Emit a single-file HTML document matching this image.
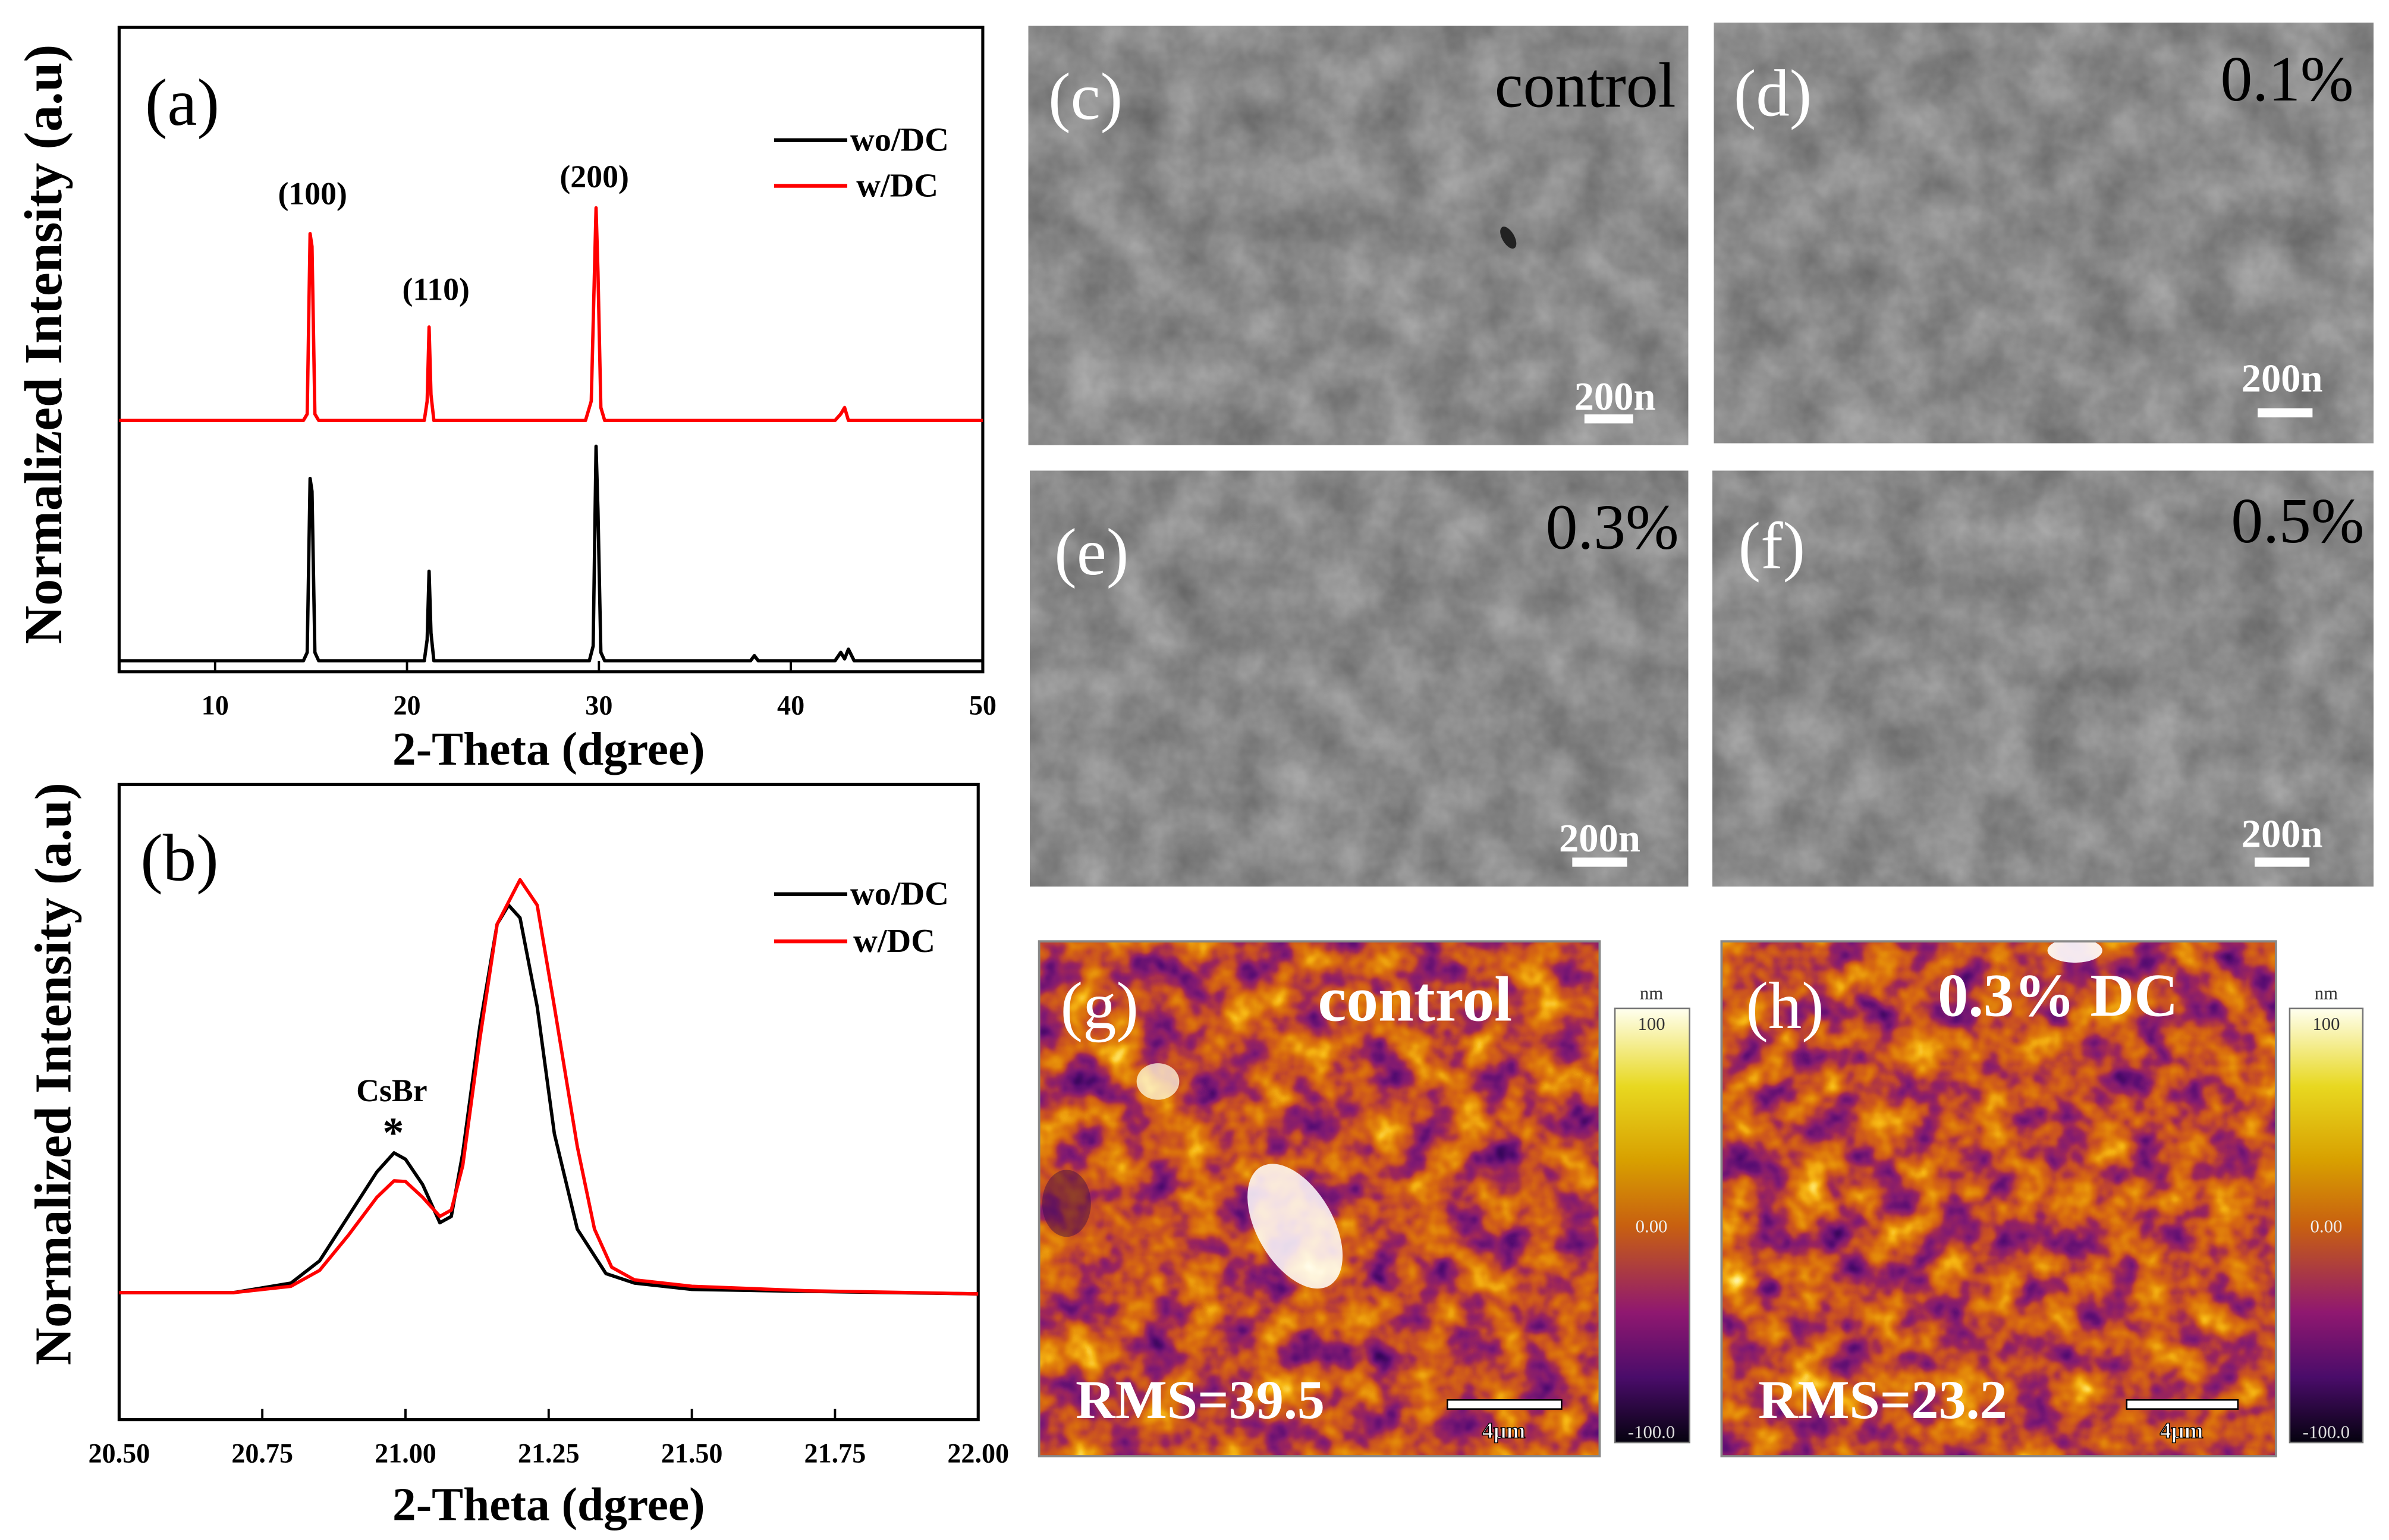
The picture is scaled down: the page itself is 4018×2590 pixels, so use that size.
<!DOCTYPE html>
<html><head><meta charset="utf-8"><style>
html,body{margin:0;padding:0;background:#fff;}
svg{display:block;}
text{font-family:"Liberation Serif",serif;}
</style></head><body>
<svg id="fig" width="4018" height="2590" viewBox="0 0 1568 1011" xmlns="http://www.w3.org/2000/svg">
<defs>
<filter id="sem" x="0" y="0" width="100%" height="100%" color-interpolation-filters="sRGB">
  <feTurbulence type="fractalNoise" baseFrequency="0.03" numOctaves="4" seed="3"/>
  <feColorMatrix type="matrix" values="0.3 0 0 0 0.39  0.3 0 0 0 0.39  0.3 0 0 0 0.39  0 0 0 0 1"/>
</filter>
<filter id="afm" x="0" y="0" width="100%" height="100%" color-interpolation-filters="sRGB">
  <feTurbulence type="fractalNoise" baseFrequency="0.04" numOctaves="3" seed="7"/>
  <feColorMatrix type="matrix" values="1 0 0 0 0  1 0 0 0 0  1 0 0 0 0  0 0 0 0 1"/>
  <feComponentTransfer>
    <feFuncR type="table" tableValues="0.1 0.2 0.35 0.5 0.62 0.78 0.85 0.9 0.97 1 1"/>
    <feFuncG type="table" tableValues="0 0.02 0.05 0.1 0.15 0.3 0.42 0.55 0.72 0.9 1"/>
    <feFuncB type="table" tableValues="0.25 0.35 0.45 0.45 0.35 0.15 0.06 0.04 0.08 0.4 0.9"/>
  </feComponentTransfer>
</filter>
<linearGradient id="cbar" x1="0" y1="0" x2="0" y2="1">
  <stop offset="0" stop-color="#fffff0"/><stop offset="0.18" stop-color="#e8d820"/>
  <stop offset="0.35" stop-color="#d8a000"/><stop offset="0.5" stop-color="#c86010"/>
  <stop offset="0.7" stop-color="#901870"/><stop offset="0.85" stop-color="#4a0c6a"/>
  <stop offset="1" stop-color="#05020f"/>
</linearGradient>
</defs>

<!-- Panel a -->
<g>
<rect x="78" y="18" width="567" height="423" fill="none" stroke="#000" stroke-width="2"/>
<g id="a-xticks"></g>
<g id="a-series"></g>
<text x="95" y="82" font-size="44">(a)</text>
<text x="205" y="134" font-size="21" font-weight="bold" text-anchor="middle">(100)</text>
<text x="286" y="197" font-size="21" font-weight="bold" text-anchor="middle">(110)</text>
<text x="390" y="123" font-size="21" font-weight="bold" text-anchor="middle">(200)</text>
<g>
<line x1="508" y1="92" x2="556" y2="92" stroke="#000" stroke-width="2.5"/>
<text x="558" y="99" font-size="22" font-weight="bold">wo/DC</text>
<line x1="508" y1="122" x2="556" y2="122" stroke="#f00" stroke-width="2.5"/>
<text x="562" y="129" font-size="22" font-weight="bold">w/DC</text>
</g>
<text transform="translate(40,226) rotate(-90)" font-size="35" font-weight="bold" text-anchor="middle">Normalized Intensity (a.u)</text>
<text x="360" y="502" font-size="31" font-weight="bold" text-anchor="middle">2-Theta (dgree)</text>
</g>

<!-- Panel b -->
<g>
<rect x="78" y="515" width="564" height="417" fill="none" stroke="#000" stroke-width="2"/>
<g id="b-xticks"></g>
<g id="b-series"></g>
<text x="92" y="578" font-size="44">(b)</text>
<text x="257" y="723" font-size="21" font-weight="bold" text-anchor="middle">CsBr</text>
<text x="258" y="753" font-size="28" font-weight="bold" text-anchor="middle">*</text>
<g>
<line x1="508" y1="587" x2="556" y2="587" stroke="#000" stroke-width="2.5"/>
<text x="558" y="594" font-size="22" font-weight="bold">wo/DC</text>
<line x1="508" y1="618" x2="556" y2="618" stroke="#f00" stroke-width="2.5"/>
<text x="560" y="625" font-size="22" font-weight="bold">w/DC</text>
</g>
<text transform="translate(46,705) rotate(-90)" font-size="34" font-weight="bold" text-anchor="middle">Normalized Intensity (a.u)</text>
<text x="360" y="998" font-size="31" font-weight="bold" text-anchor="middle">2-Theta (dgree)</text>
</g>

<!-- SEM images -->
<g>
<rect x="675" y="17" width="433" height="275" fill="#888" filter="url(#sem)"/>
<ellipse cx="990" cy="156" rx="4" ry="8" fill="#222" transform="rotate(-30 990 156)"/>
<text x="688" y="78" font-size="44" fill="#fff">(c)</text>
<text x="1100" y="70" font-size="42" text-anchor="end">control</text>
<text x="1060" y="269" font-size="26" font-weight="bold" fill="#fff" text-anchor="middle">200n</text>
<rect x="1040" y="272" width="32" height="6" fill="#fff"/>
</g>
<g>
<rect x="1125" y="15" width="433" height="276" fill="#888" filter="url(#sem)"/>
<text x="1138" y="76" font-size="44" fill="#fff">(d)</text>
<text x="1545" y="66" font-size="42" text-anchor="end">0.1%</text>
<text x="1498" y="257" font-size="26" font-weight="bold" fill="#fff" text-anchor="middle">200n</text>
<rect x="1482" y="268" width="36" height="6" fill="#fff"/>
</g>
<g>
<rect x="676" y="309" width="432" height="273" fill="#888" filter="url(#sem)"/>
<text x="692" y="377" font-size="44" fill="#fff">(e)</text>
<text x="1102" y="360" font-size="42" text-anchor="end">0.3%</text>
<text x="1050" y="559" font-size="26" font-weight="bold" fill="#fff" text-anchor="middle">200n</text>
<rect x="1032" y="563" width="36" height="6" fill="#fff"/>
</g>
<g>
<rect x="1124" y="309" width="434" height="273" fill="#888" filter="url(#sem)"/>
<text x="1141" y="373" font-size="44" fill="#fff">(f)</text>
<text x="1552" y="356" font-size="42" text-anchor="end">0.5%</text>
<text x="1498" y="556" font-size="26" font-weight="bold" fill="#fff" text-anchor="middle">200n</text>
<rect x="1480" y="563" width="36" height="6" fill="#fff"/>
</g>

<!-- AFM images -->
<g>
<rect x="682" y="618" width="368" height="338" fill="#c86a10" filter="url(#afm)"/>
<ellipse cx="850" cy="805" rx="25" ry="45" fill="#fff" opacity="0.85" transform="rotate(-30 850 805)"/>
<ellipse cx="760" cy="710" rx="14" ry="12" fill="#fffbe0" opacity="0.75"/>
<ellipse cx="700" cy="790" rx="16" ry="22" fill="#3a0a4a" opacity="0.45"/>
<rect x="682" y="618" width="368" height="338" fill="none" stroke="#888" stroke-width="1.5"/>
<text x="696" y="675" font-size="44" fill="#fff">(g)</text>
<text x="865" y="670" font-size="42" font-weight="bold" fill="#fff">control</text>
<text x="706" y="931" font-size="36" font-weight="bold" fill="#fff">RMS=39.5</text>
<rect x="950" y="919" width="75" height="6" fill="#fff" stroke="#000" stroke-width="1"/>
<text x="987" y="944" font-size="15" font-weight="bold" fill="#fff" stroke="#000" stroke-width="0.6" text-anchor="middle" font-family="Liberation Sans">4μm</text>
</g>
<g>
<rect x="1060" y="662" width="49" height="285" fill="url(#cbar)" stroke="#777" stroke-width="1"/>
<text x="1084" y="656" font-size="12" text-anchor="middle" font-family="Liberation Sans" fill="#333">nm</text>
<text x="1084" y="676" font-size="12" text-anchor="middle" font-family="Liberation Sans" fill="#333">100</text>
<text x="1084" y="809" font-size="12" text-anchor="middle" font-family="Liberation Sans" fill="#eee">0.00</text>
<text x="1084" y="944" font-size="12" text-anchor="middle" font-family="Liberation Sans" fill="#ddd">-100.0</text>
</g>
<g>
<rect x="1130" y="618" width="364" height="338" fill="#c86a10" filter="url(#afm)"/>
<ellipse cx="1362" cy="624" rx="18" ry="8" fill="#fff" opacity="0.9"/>
<rect x="1130" y="618" width="364" height="338" fill="none" stroke="#888" stroke-width="1.5"/>
<text x="1146" y="675" font-size="44" fill="#fff">(h)</text>
<text x="1272" y="667" font-size="40" font-weight="bold" fill="#fff">0.3% DC</text>
<text x="1154" y="931" font-size="36" font-weight="bold" fill="#fff">RMS=23.2</text>
<rect x="1396" y="919" width="73" height="6" fill="#fff" stroke="#000" stroke-width="1"/>
<text x="1432" y="944" font-size="15" font-weight="bold" fill="#fff" stroke="#000" stroke-width="0.6" text-anchor="middle" font-family="Liberation Sans">4μm</text>
</g>
<g>
<rect x="1503" y="662" width="48" height="285" fill="url(#cbar)" stroke="#777" stroke-width="1"/>
<text x="1527" y="656" font-size="12" text-anchor="middle" font-family="Liberation Sans" fill="#333">nm</text>
<text x="1527" y="676" font-size="12" text-anchor="middle" font-family="Liberation Sans" fill="#333">100</text>
<text x="1527" y="809" font-size="12" text-anchor="middle" font-family="Liberation Sans" fill="#eee">0.00</text>
<text x="1527" y="944" font-size="12" text-anchor="middle" font-family="Liberation Sans" fill="#ddd">-100.0</text>
</g>
</svg>
<script>
// Panel (a) data
const aTicks = [10, 20, 30, 40, 50];
const aBlackX = [5, 14.6, 14.8, 14.95, 15.05, 15.2, 15.4, 20.9, 21.05, 21.15, 21.25, 21.4, 29.5, 29.7, 29.85, 29.95, 30.1, 30.3, 37.9, 38.1, 38.3, 42.3, 42.6, 42.8, 43.0, 43.3, 50];
const aBlackY = [0.017, 0.017, 0.03, 0.30, 0.28, 0.03, 0.017, 0.017, 0.05, 0.156, 0.06, 0.017, 0.017, 0.04, 0.35, 0.25, 0.03, 0.017, 0.017, 0.025, 0.017, 0.017, 0.03, 0.02, 0.035, 0.017, 0.017];
const aRedX = [5, 14.6, 14.8, 14.95, 15.05, 15.2, 15.4, 20.9, 21.05, 21.15, 21.25, 21.4, 29.3, 29.6, 29.85, 29.95, 30.1, 30.3, 42.3, 42.6, 42.8, 43.0, 50];
const aRedY = [0.39, 0.39, 0.40, 0.68, 0.66, 0.40, 0.39, 0.39, 0.42, 0.535, 0.43, 0.39, 0.39, 0.42, 0.72, 0.62, 0.41, 0.39, 0.39, 0.40, 0.41, 0.39, 0.39];
// Panel (b) data
const bTicks = [20.5, 20.75, 21.0, 21.25, 21.5, 21.75, 22.0];
const bBlackX = [20.5, 20.7, 20.8, 20.85, 20.9, 20.95, 20.98, 21.0, 21.03, 21.06, 21.08, 21.1, 21.13, 21.16, 21.18, 21.2, 21.23, 21.26, 21.3, 21.35, 21.4, 21.5, 21.7, 22.0];
const bBlackY = [0.2, 0.2, 0.215, 0.25, 0.32, 0.39, 0.42, 0.41, 0.37, 0.31, 0.32, 0.42, 0.62, 0.78, 0.81, 0.79, 0.65, 0.45, 0.3, 0.23, 0.215, 0.205, 0.202, 0.198];
const bRedX = [20.5, 20.7, 20.8, 20.85, 20.9, 20.95, 20.98, 21.0, 21.03, 21.06, 21.08, 21.1, 21.13, 21.16, 21.2, 21.23, 21.26, 21.3, 21.33, 21.36, 21.4, 21.5, 21.7, 22.0];
const bRedY = [0.2, 0.2, 0.21, 0.235, 0.29, 0.35, 0.376, 0.375, 0.35, 0.32, 0.33, 0.4, 0.6, 0.78, 0.85, 0.81, 0.65, 0.43, 0.3, 0.24, 0.22, 0.21, 0.203, 0.198];

const NS = "http://www.w3.org/2000/svg";
function mk(tag, attrs, parent){const e=document.createElementNS(NS,tag);for(const k in attrs)e.setAttribute(k,attrs[k]);parent.appendChild(e);return e;}

const axA = {x0:5,x1:50,px0:78,px1:645,py0:441,py1:18};
const axB = {x0:20.5,x1:22.0,px0:78,px1:642,py0:932,py1:515};
function sx(ax,v){return ax.px0+(v-ax.x0)/(ax.x1-ax.x0)*(ax.px1-ax.px0);}
function sy(ax,v){return ax.py0-v*(ax.py0-ax.py1);}

function drawTicks(ax, ticks, g, fmt, fs){
  ticks.forEach(t=>{
    const x=sx(ax,t);
    const l=mk('line',{x1:x,y1:ax.py0,x2:x,y2:ax.py0-7,stroke:'#000','stroke-width':1.5},g);
    
    
    const tx=mk('text',{x:x,y:ax.py0+28,'font-size':fs,'font-weight':'bold','text-anchor':'middle'},g);
    tx.textContent=fmt(t);
    
    
  });
}
drawTicks(axA,aTicks,document.getElementById('a-xticks'),t=>String(t),18);
drawTicks(axB,bTicks,document.getElementById('b-xticks'),t=>t.toFixed(2),18);

function drawLine(ax,xs,ys,color,g,name,w){
  const d=xs.map((x,i)=>(i?'L':'M')+sx(ax,x).toFixed(2)+','+sy(ax,ys[i]).toFixed(2)).join(' ');
  const p=mk('path',{d:d,fill:'none',stroke:color,'stroke-width':w,'stroke-linejoin':'round'},g);
  
  
}
const ga=document.getElementById('a-series');
drawLine(axA,aBlackX,aBlackY,'#000',ga,'series-a-wo-dc',2.2);
drawLine(axA,aRedX,aRedY,'#f00',ga,'series-a-w-dc',2.2);
const gb=document.getElementById('b-series');
drawLine(axB,bBlackX,bBlackY,'#000',gb,'series-b-wo-dc',2.2);
drawLine(axB,bRedX,bRedY,'#f00',gb,'series-b-w-dc',2.2);
</script>
</body></html>
